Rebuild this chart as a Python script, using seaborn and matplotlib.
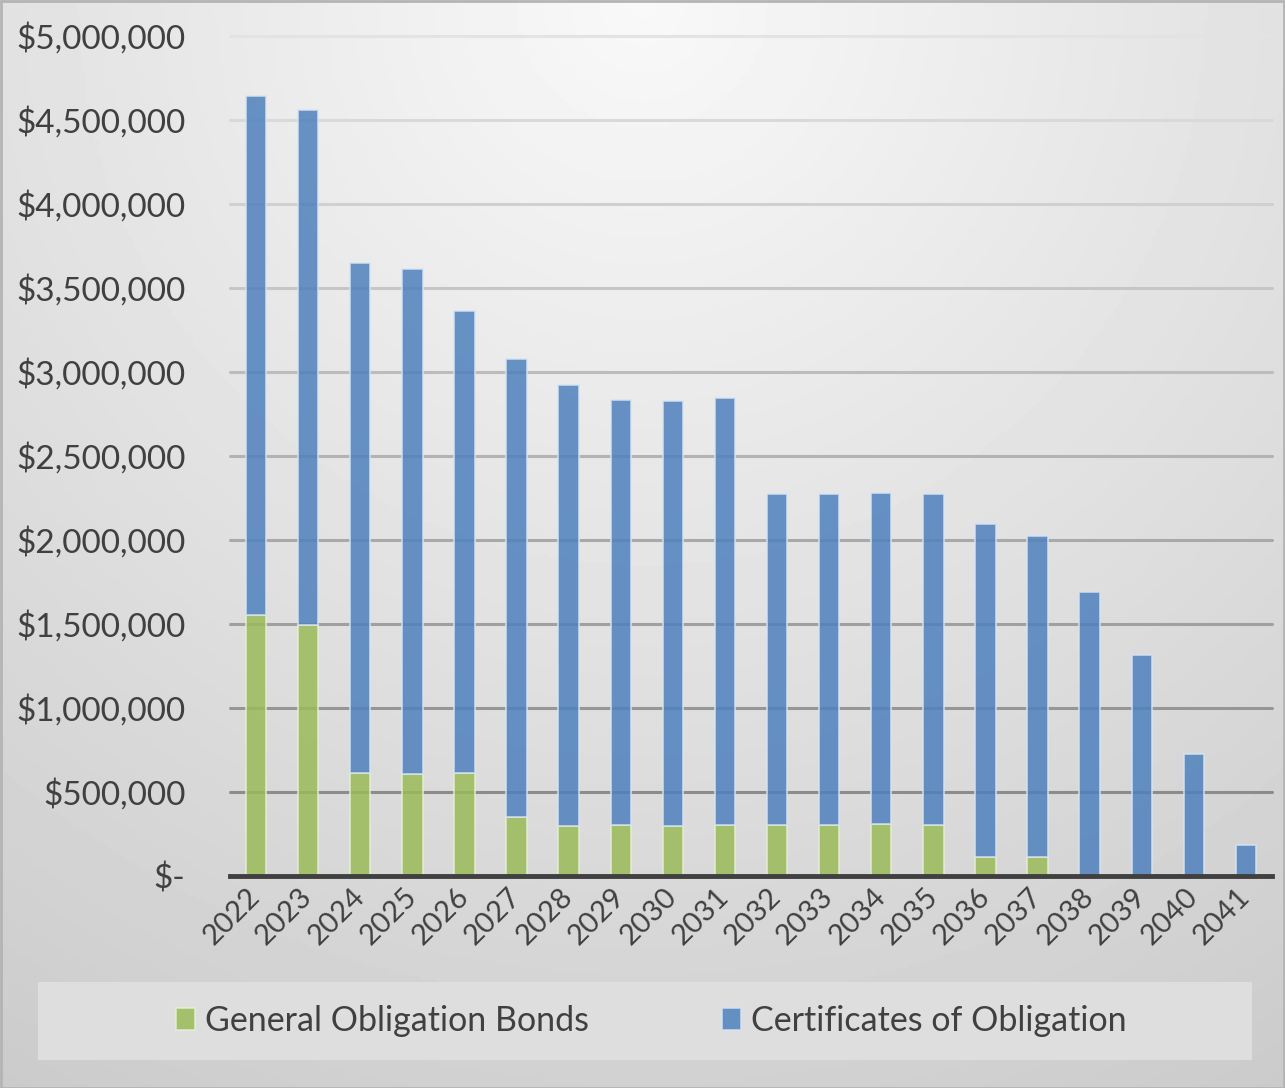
import numpy as np
import matplotlib
matplotlib.use("Agg")
import matplotlib.pyplot as plt
from matplotlib.patches import Rectangle
from matplotlib.ticker import FuncFormatter
import seaborn as sns

years = ["2022", "2023", "2024", "2025", "2026", "2027", "2028", "2029", "2030", "2031",
         "2032", "2033", "2034", "2035", "2036", "2037", "2038", "2039", "2040", "2041"]
general_obligation = [1555000, 1496000, 616000, 608000, 616000, 353000, 298000, 304000, 298000, 304000,
                      304000, 304000, 310000, 304000, 111000, 111000, 0, 0, 0, 0]
certificates = [3089000, 3065000, 3031000, 3003000, 2745000, 2722000, 2622000, 2527000, 2527000, 2539000,
                1967000, 1967000, 1972000, 1972000, 1987000, 1911000, 1688000, 1313000, 725000, 183000]
series_names = ["General Obligation Bonds", "Certificates of Obligation"]
yticks = [0, 500000, 1000000, 1500000, 2000000, 2500000, 3000000, 3500000, 4000000, 4500000, 5000000]

GREEN = "#9BBB59"
BLUE = "#4F81BD"
TXT = "#404040"

sns.set_style("white")
plt.rcParams["font.family"] = ["Lato", "DejaVu Sans"]

W, H = 1285, 1088
fig = plt.figure(figsize=(W / 100, H / 100), dpi=100)

# radial gradient background (light at top centre, darker towards corners)
bg = fig.add_axes([0, 0, 1, 1], zorder=-10)
yy, xx = np.mgrid[0:1:300j, 0:1:300j]
d = np.sqrt(((xx - 0.5) * 1.18) ** 2 + yy ** 2)
grad = 0.975 - 0.155 * d
bg.imshow(grad, cmap="gray", vmin=0, vmax=1, extent=[0, 1, 0, 1], aspect="auto", origin="upper")
bg.set_xlim(0, 1); bg.set_ylim(0, 1)
bg.axis("off")

# legend box and outer border
fig.patches.append(Rectangle((38 / W, (H - 1060) / H), (1252 - 38) / W, 78 / H,
                             transform=fig.transFigure, facecolor="#dedede", edgecolor="none", zorder=-5))
fig.patches.append(Rectangle((0.5 / W, 0.5 / H), 1 - 1.5 / W, 1 - 1.5 / H, transform=fig.transFigure,
                             facecolor="none", edgecolor="#b4b4b4", lw=2, zorder=5))

ax = fig.add_axes([230 / W, (H - 876) / H, (1272 - 230) / W, (876 - 36) / H])
ax.patch.set_alpha(0)

sns.barplot(x=years, y=general_obligation, color=GREEN, saturation=1, width=0.39, alpha=0.85,
            edgecolor="#e4efd6", linewidth=1.2, ax=ax, label=series_names[0], zorder=3)
sns.barplot(x=years, y=certificates, bottom=general_obligation, color=BLUE, saturation=1, width=0.39,
            alpha=0.85, edgecolor="#d8e4f2", linewidth=1.2, ax=ax, label=series_names[1], zorder=3)

ax.set_xlim(-0.5, len(years) - 0.5)
ax.set_ylim(0, 5.0e6)
ax.set_yticks(yticks)
ax.yaxis.set_major_formatter(FuncFormatter(lambda v, p: "$-" if v == 0 else "${:,.0f}".format(v)))
ax.grid(False)
# gridlines whose shade fades from dark (bottom) to light (top)
for t in yticks[1:]:
    f = (t - 500000) / 4500000
    g = 0.55 + f * (0.89 - 0.55)
    ax.axhline(t, color=(g, g, g), lw=2.2, zorder=1, clip_on=False)
for s in ["left", "right", "top"]:
    ax.spines[s].set_visible(False)
ax.spines["bottom"].set_color(TXT)
ax.spines["bottom"].set_linewidth(3.5)
ax.spines["bottom"].set_zorder(5)
ax.tick_params(axis="both", length=0)
ax.tick_params(axis="y", labelsize=24, labelcolor=TXT, pad=32)
ax.tick_params(axis="x", labelsize=21, labelcolor=TXT, pad=12)
plt.setp(ax.get_xticklabels(), rotation=45, ha="right", va="center", rotation_mode="anchor")
ax.set_xlabel("")
ax.set_ylabel("")

handles, labels = ax.get_legend_handles_labels()
if ax.get_legend() is not None:
    ax.get_legend().remove()
fig.legend(handles, labels, loc="center", bbox_to_anchor=(651 / W, (H - 1021) / H), ncol=2,
           frameon=False, fontsize=24.5, labelcolor=TXT, handlelength=0.56, handleheight=0.62,
           handletextpad=0.3, columnspacing=3.9)

fig.savefig("out.png", dpi=100)
